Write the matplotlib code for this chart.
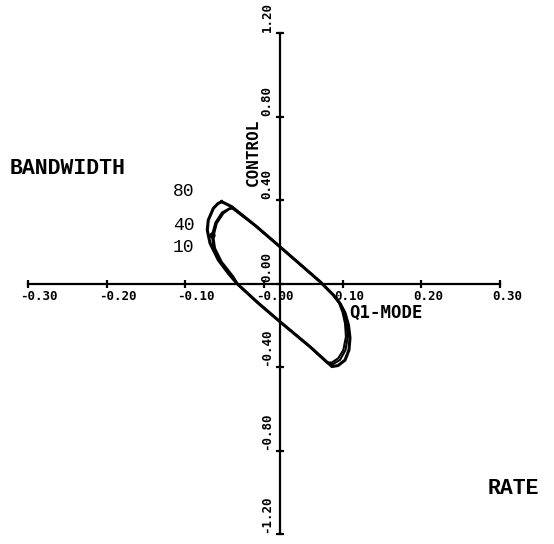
import matplotlib
matplotlib.use("Agg")
import matplotlib.pyplot as plt

# closed-loop response curves, rate (x) vs control (y), one per bandwidth
bw80_x = [-0.0538, -0.0411, -0.0102, 0.0203, 0.0712, 0.0881, 0.0966, 0.1030,
          0.1074, 0.1093, 0.1080, 0.1030, 0.0941, 0.0864, 0.0817, 0.0585,
          0.0203, -0.0076, -0.0347, -0.0454, -0.0581, -0.0686, -0.0721,
          -0.0708, -0.0644, -0.0585, -0.0538]
bw80_y = [0.392, 0.368, 0.275, 0.176, 0.009, -0.055, -0.095, -0.141,
          -0.199, -0.261, -0.319, -0.367, -0.393, -0.398, -0.382, -0.303,
          -0.183, -0.093, 0.001, 0.049, 0.113, 0.193, 0.256,
          0.304, 0.360, 0.383, 0.392]

bw40_x = [-0.0661, -0.0617, -0.0534, -0.0419, -0.0102, 0.0203, 0.0712, 0.0881,
          0.0966, 0.1014, 0.1049, 0.1065, 0.1036, 0.0966, 0.0877, 0.0807,
          0.0585, 0.0203, -0.0076, -0.0330, -0.0419, -0.0559, -0.0642, -0.0661]
bw40_y = [0.232, 0.292, 0.340, 0.364, 0.275, 0.176, 0.009, -0.055,
          -0.095, -0.137, -0.192, -0.255, -0.319, -0.366, -0.386, -0.381,
          -0.303, -0.183, -0.093, -0.005, 0.038, 0.103, 0.168, 0.232]

bw10_x = [-0.0394, -0.0102, 0.0203, 0.0712, 0.0881, 0.0953, 0.0998, 0.1030,
          0.1042, 0.1008, 0.0944, 0.0861, 0.0797, 0.0585, 0.0203, -0.0076,
          -0.0327, -0.0390, -0.0538, -0.0623, -0.0644, -0.0601, -0.0517,
          -0.0451, -0.0394]
bw10_y = [0.362, 0.275, 0.176, 0.009, -0.055, -0.093, -0.137, -0.191,
          -0.255, -0.319, -0.358, -0.379, -0.378, -0.303, -0.183, -0.093,
          -0.007, 0.033, 0.104, 0.169, 0.224, 0.288, 0.336,
          0.354, 0.362]

x_ticks = [-0.30, -0.20, -0.10, 0.00, 0.10, 0.20, 0.30]
x_tick_labels = ["-0.30", "-0.20", "-0.10", "-0.00", "0.10", "0.20", "0.30"]
y_ticks = [-1.20, -0.80, -0.40, 0.00, 0.40, 0.80, 1.20]
y_tick_labels = ["-1.20", "-0.80", "-0.40", "0.00", "0.40", "0.80", "1.20"]

# the plotter drew the vertical axis slightly right of x = 0
YAXIS_X = 0.0203

fig = plt.figure(figsize=(5.54, 5.44), dpi=100)
ax = fig.add_axes([28 / 554, 10 / 544, 472 / 554, 501 / 544])
ax.set_xlim(-0.30, 0.30)
ax.set_ylim(-1.20, 1.20)

for side in ("top", "right"):
    ax.spines[side].set_visible(False)
ax.spines["bottom"].set_position(("data", 0))
ax.spines["left"].set_position(("data", YAXIS_X))
for side in ("bottom", "left"):
    ax.spines[side].set_linewidth(1.6)
    ax.spines[side].set_zorder(1)

ax.set_xticks(x_ticks)
ax.set_yticks(y_ticks)
ax.tick_params(direction="inout", length=6, width=1.6, labelbottom=False, labelleft=False)

tick_font = dict(family="DejaVu Sans Mono", fontweight="bold", fontsize=9)
for xv, lab in zip(x_ticks, x_tick_labels):
    ax.annotate(lab, xy=(xv, 0), xytext=(-8, -13), textcoords="offset pixels",
                ha="left", va="center", annotation_clip=False, **tick_font)
for yv, lab in zip(y_ticks, y_tick_labels):
    ax.annotate(lab, xy=(YAXIS_X, yv), xytext=(-13, 1), textcoords="offset pixels",
                ha="center", va="bottom", rotation=90, annotation_clip=False,
                **tick_font)

ax.plot(bw80_x, bw80_y, color="black", lw=2.2, solid_joinstyle="round", zorder=3)
ax.plot(bw40_x, bw40_y, color="black", lw=1.5, solid_joinstyle="round",
        marker="o", markersize=3.5, markevery=[0], zorder=3)
ax.plot(bw10_x, bw10_y, color="black", lw=1.5, solid_joinstyle="round", zorder=3)

# axis names, plotter lettering
ax.annotate("CONTROL", xy=(YAXIS_X, 0.63), xytext=(-27, 0), textcoords="offset pixels",
            ha="center", va="center", rotation=90, family="DejaVu Sans Mono",
            fontweight="bold", fontsize=11.5)
ax.text(0.155, -0.14, "Q1-MODE", ha="center", va="center",
        family="DejaVu Sans Mono", fontweight="bold", fontsize=12.5)

# typed annotations
fig.text(10 / 554, 1 - 168 / 544, "BANDWIDTH", ha="left", va="center",
         family="Liberation Mono", fontweight="bold", fontsize=15.5)
fig.text(488 / 554, 1 - 489 / 544, "RATE", ha="left", va="center",
         family="Liberation Mono", fontweight="bold", fontsize=15.5)
for lab, py in (("80", 191), ("40", 225), ("10", 247)):
    fig.text(173 / 554, 1 - py / 544, lab, ha="left", va="center",
             family="Liberation Mono", fontsize=13)

fig.savefig("out.png", dpi=100)
